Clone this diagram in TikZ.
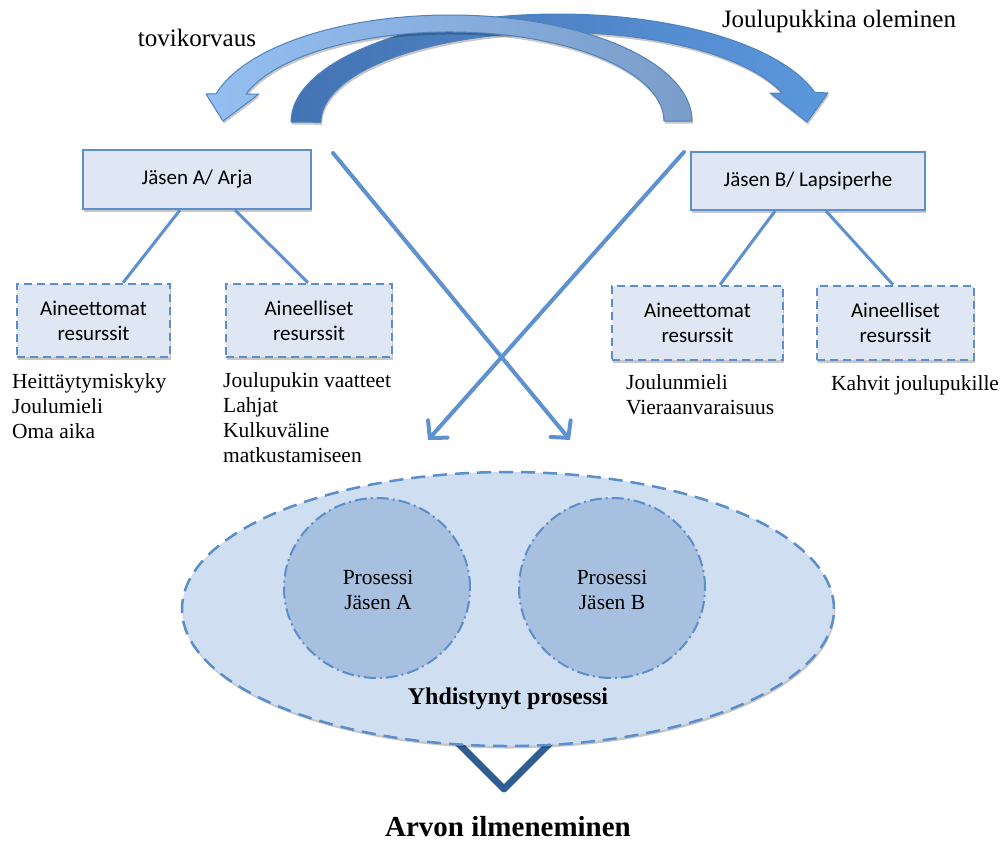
\documentclass[tikz,border=0pt]{standalone}
\usepackage{fontspec}
\setmainfont{Liberation Serif}
\newfontfamily\boxfont{Carlito}
\usetikzlibrary{arrows.meta,shadows,calc,shapes.geometric}

\definecolor{boxfill}{HTML}{DEE7F3}
\definecolor{boxedge}{HTML}{5F8FCB}
\definecolor{dashedge}{HTML}{5B8ECB}
\definecolor{linkcol}{HTML}{5D91D0}
\definecolor{ovalfill}{HTML}{CFDFF1}
\definecolor{circfill}{HTML}{A7C0DF}
\definecolor{veecol}{HTML}{2F5E95}
\definecolor{arcedge}{HTML}{4F81BD}
\definecolor{arcdark}{HTML}{4373B3}
\definecolor{arcmid}{HTML}{5B97DC}
\definecolor{arclight}{HTML}{94BFF2}
\definecolor{arcfoot}{HTML}{7B9DC9}

\tikzset{
  softshadow/.style={drop shadow={shadow xshift=1pt, shadow yshift=-2.5pt, opacity=0.22, fill=black}},
  solidbox/.style={draw=boxedge, line width=2pt, fill=boxfill, softshadow,
    font=\boxfont\fontsize{21}{25}\selectfont, inner sep=0pt},
  dashbox/.style={draw=dashedge, line width=2.5pt, dash pattern=on 8pt off 5pt,
    fill=boxfill, softshadow, align=center,
    font=\boxfont\fontsize{21}{25}\selectfont, inner sep=0pt},
  listtext/.style={anchor=base west, inner sep=0pt, font=\fontsize{21.5}{25}\selectfont},
  link/.style={draw=linkcol, line width=3pt},
  cross/.style={draw=linkcol, line width=4pt, line cap=round,
    -{Straight Barb[length=12pt, width=26pt, line cap=round]}},
  bigoval/.style={ellipse, draw=dashedge, line width=2.5pt, dash pattern=on 14pt off 8pt,
    fill=ovalfill, softshadow, inner sep=0pt},
  proc/.style={ellipse, draw=dashedge, line width=2pt,
    dash pattern=on 12pt off 4pt on 2pt off 4pt, fill=circfill, inner sep=0pt},
  bandarrow/.style={draw=arcedge, line width=1pt, line join=round},
  vee/.style={draw=veecol, line width=7pt, line join=round},
}

\begin{document}
\begin{tikzpicture}[x=1pt, y=1pt]
\useasboundingbox[fill=white] (0,0) rectangle (1003,-841);

% curved exchange arrows at the top
\path[bandarrow, softshadow, left color=arcdark, right color=arcmid]
  (291,-122) arc[start angle=180, end angle=16.03, x radius=267pt, y radius=108pt]
  -- (828,-93) -- (807,-122) -- (770,-93) -- (782,-93)
  arc[start angle=19.02, end angle=180, x radius=237pt, y radius=90pt] -- cycle;
\path[bandarrow, softshadow, left color=arclight, right color=arcfoot]
  (692,-121) arc[start angle=0, end angle=165.10, x radius=242pt, y radius=106pt]
  -- (206,-94) -- (223,-121) -- (259,-94) -- (246,-94)
  arc[start angle=162.34, end angle=0, x radius=214pt, y radius=89pt] -- cycle;

\node[anchor=base, inner sep=0pt, font=\fontsize{25}{30}\selectfont] (tk) at (197,-46) {tovikorvaus};
\node[anchor=base, inner sep=0pt, font=\fontsize{25}{30}\selectfont] (jo) at (839,-27) {Joulupukkina oleminen};

% members
\node[solidbox, minimum width=228pt, minimum height=59pt] (A) at (197,-179.5) {Jäsen A/ Arja};
\node[solidbox, minimum width=234pt, minimum height=58pt] (B) at (808,-181) {Jäsen B/ Lapsiperhe};

% resources
\node[dashbox, minimum width=153pt, minimum height=73pt] (am1) at (93.5,-320.5) {Aineettomat\\resurssit};
\node[dashbox, minimum width=166pt, minimum height=73pt] (ae1) at (309,-320.5) {Aineelliset\\resurssit};
\node[dashbox, minimum width=171pt, minimum height=74pt] (am2) at (697.5,-323) {Aineettomat\\resurssit};
\node[dashbox, minimum width=157pt, minimum height=74pt] (ae2) at (895.5,-323) {Aineelliset\\resurssit};

\draw[link] ($(A.south)+(-17,0)$) -- ($(am1.north)+(29.5,0)$);
\draw[link] ($(A.south)+(38,0)$) -- ($(ae1.north)+(-1,0)$);
\draw[link] ($(B.south)+(-33,0)$) -- ($(am2.north)+(22.5,0)$);
\draw[link] ($(B.south)+(18,0)$) -- ($(ae2.north)+(-2.5,0)$);

\node[listtext] (la) at (12,-388) {\begin{tabular}[t]{@{}l@{}}Heittäytymiskyky\\Joulumieli\\Oma aika\end{tabular}};
\node[listtext] (lb) at (223,-387) {\begin{tabular}[t]{@{}l@{}}Joulupukin vaatteet\\Lahjat\\Kulkuväline\\matkustamiseen\end{tabular}};
\node[listtext] (lc) at (626,-389) {\begin{tabular}[t]{@{}l@{}}Joulunmieli\\Vieraanvaraisuus\end{tabular}};
\node[listtext] (ld) at (831,-390) {Kahvit joulupukille};

% crossing arrows
\coordinate (c1s) at (333,-153);
\coordinate (c1e) at (570,-440);
\coordinate (c2s) at (684,-152);
\coordinate (c2e) at (428,-440);
\draw[cross] (c1s) -- (c1e);
\draw[cross] (c2s) -- (c2e);

% joint process
\coordinate (vl) at (448,-733);
\coordinate (vt) at (504,-789);
\coordinate (vr) at (560,-733);
\draw[vee] (vl) -- (vt) -- (vr);

\node[bigoval, minimum width=652pt, minimum height=274pt] (yh) at (508,-609) {};
\node[proc, minimum width=186pt, minimum height=180pt] (pa) at (377,-588) {};
\node[proc, minimum width=186pt, minimum height=180pt] (pb) at (612,-588) {};

\node[anchor=base, inner sep=0pt, font=\fontsize{21.5}{25}\selectfont] (ta) at (378,-584)
  {\begin{tabular}[t]{@{}c@{}}Prosessi\\Jäsen A\end{tabular}};
\node[anchor=base, inner sep=0pt, font=\fontsize{21.5}{25}\selectfont] (tb) at (612,-584)
  {\begin{tabular}[t]{@{}c@{}}Prosessi\\Jäsen B\end{tabular}};
\node[anchor=base, inner sep=0pt, font=\bfseries\fontsize{24}{28}\selectfont] (ty) at (508,-704) {Yhdistynyt prosessi};

\node[anchor=base, inner sep=0pt, font=\bfseries\fontsize{29}{34}\selectfont] (av) at (508,-836) {Arvon ilmeneminen};
\end{tikzpicture}
\end{document}
